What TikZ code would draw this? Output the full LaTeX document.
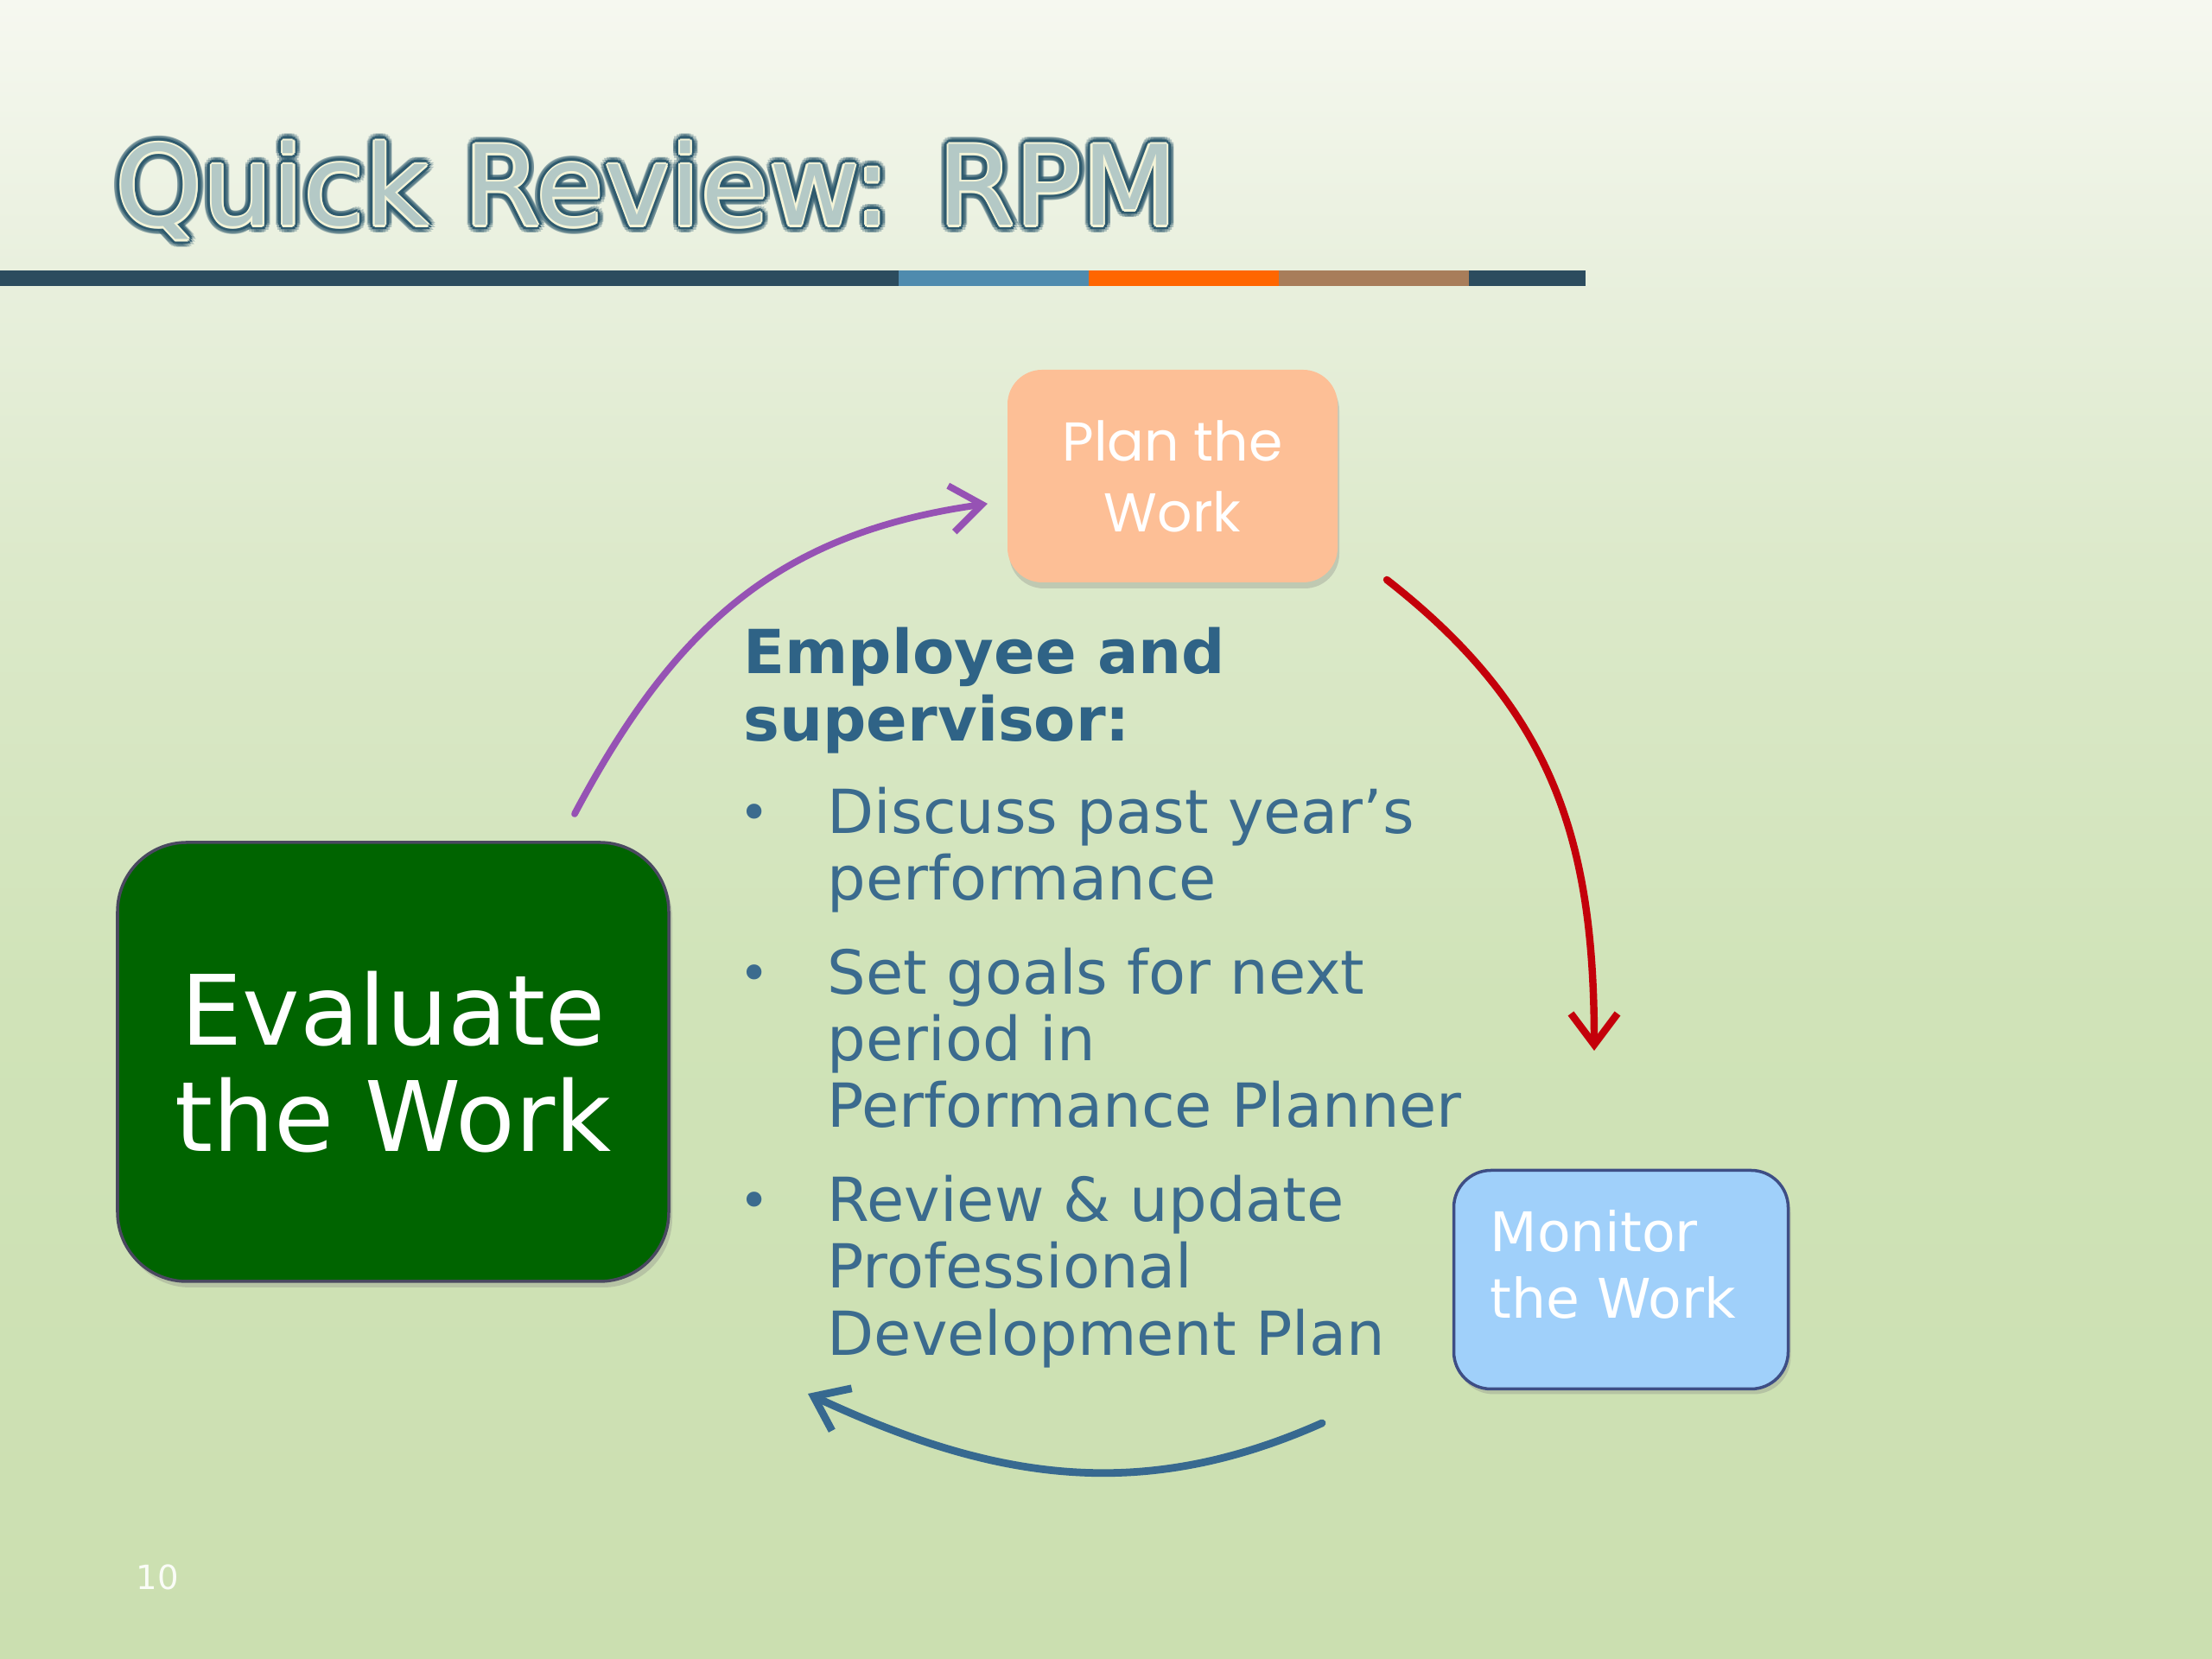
\documentclass[tikz,border=0pt]{standalone}
\usepackage{fontspec}
\setmainfont{DejaVu Sans}
\newfontfamily\planfont{Poppins}
\usepackage{xcolor}
\usepackage{tikz}
\usetikzlibrary{arrows.meta,positioning,shadows,calc}
\definecolor{bgtop}{HTML}{F6F8F0}
\definecolor{bghigh}{HTML}{E9F0DE}
\definecolor{bgmid}{HTML}{DCE9CA}
\definecolor{bglow}{HTML}{D0E3B8}
\definecolor{bgbottom}{HTML}{CBDFB0}
\definecolor{bardark}{HTML}{2C4C5E}
\definecolor{barblue}{HTML}{4F8BAE}
\definecolor{barorange}{HTML}{FF6600}
\definecolor{barbrown}{HTML}{A87D5A}
\definecolor{titleteal}{HTML}{2E5A6E}
\definecolor{titlecream}{HTML}{F4F4D8}
\definecolor{titlefill}{HTML}{B4C9C6}
\definecolor{planpeach}{HTML}{FDBF96}
\definecolor{monitorblue}{HTML}{A0D0FA}
\definecolor{monitoredge}{HTML}{3E4E85}
\definecolor{evalgreen}{HTML}{006400}
\definecolor{evaledge}{HTML}{4A4860}
\definecolor{headblue}{HTML}{2F6386}
\definecolor{bodyblue}{HTML}{3B6B8E}
\definecolor{arrowpurple}{HTML}{9652B4}
\definecolor{arrowred}{HTML}{C4000A}
\definecolor{arrowblue}{HTML}{376990}
\pgfdeclareverticalshading{slidebg}{100bp}{color(0bp)=(bgbottom); color(25bp)=(bgbottom); color(45bp)=(bglow); color(58bp)=(bgmid); color(67bp)=(bghigh); color(75bp)=(bgtop); color(100bp)=(bgtop)}
\newcommand{\listdot}{\hspace{-1.6pt}\raisebox{0.8pt}{\fontsize{17}{17}\selectfont •}}
\tikzset{
  titletext/.style={
    anchor=base west,
    inner sep=0pt,
    font=\fontsize{36.5}{40}\selectfont
  },
  planbox/.style={
    fill=planpeach,
    rounded corners=0.4cm,
    minimum width=3.82cm,
    minimum height=2.46cm,
    text=white,
    align=center,
    font=\planfont\fontsize{18}{23.3}\selectfont,
    drop shadow={opacity=0.3, shadow xshift=0.02cm, shadow yshift=-0.07cm}
  },
  monitorbox/.style={
    fill=monitorblue,
    draw=monitoredge,
    line width=1pt,
    rounded corners=0.43cm,
    minimum width=3.87cm,
    minimum height=2.53cm,
    drop shadow={opacity=0.3, shadow xshift=0.03cm, shadow yshift=-0.06cm}
  },
  monitortext/.style={
    anchor=north west,
    inner sep=0pt,
    text=white,
    align=left,
    font=\fontsize{18}{22}\selectfont
  },
  evalbox/.style={
    fill=evalgreen,
    draw=evaledge,
    line width=1pt,
    rounded corners=0.8cm,
    minimum width=6.38cm,
    minimum height=5.08cm,
    text=white,
    align=center,
    font=\fontsize{32}{35}\selectfont,
    drop shadow={opacity=0.3, shadow xshift=0.04cm, shadow yshift=-0.07cm}
  },
  bodytext/.style={
    anchor=base west,
    inner sep=0pt,
    text=bodyblue,
    font=\fontsize{20}{22}\selectfont
  },
  cyclearrow/.style={
    -{Straight Barb[length=3.6mm,width=5.4mm]},
    line width=2.2pt,
    line cap=round
  },
  pagenum/.style={
    anchor=base west,
    inner sep=0pt,
    text=white!90!bgbottom,
    font=\fontsize{11}{13}\selectfont
  }
}
\begin{document}
\begin{tikzpicture}
  \useasboundingbox (0,0) rectangle (25.6,19.2);
  \fill[shading=slidebg] (0,0) rectangle (25.6,19.2);
  % title with outlined letters
  \foreach \ang in {0,20,...,340}
    \node[titletext, text=titleteal, opacity=0.3] (glow\ang) at ($(1.33,16.59)+(\ang:0.085)$) {Quick Review: RPM};
  \foreach \ang in {0,30,...,330}
    \node[titletext, text=titleteal] (edge\ang) at ($(1.33,16.59)+(\ang:0.05)$) {Quick Review: RPM};
  \foreach \ang in {0,45,...,315}
    \node[titletext, text=titlecream] (rim\ang) at ($(1.33,16.59)+(\ang:0.022)$) {Quick Review: RPM};
  \node[titletext, text=titlefill] (title) at (1.33,16.59) {Quick Review: RPM};
  % colour bar
  \fill[bardark] (0,15.89) rectangle (10.40,16.07);
  \fill[barblue] (10.40,15.89) rectangle (12.60,16.07);
  \fill[barorange] (12.60,15.89) rectangle (14.80,16.07);
  \fill[barbrown] (14.80,15.89) rectangle (17.00,16.07);
  \fill[bardark] (17.00,15.89) rectangle (18.35,16.07);
  % the three stages
  \node[planbox] (plan) at (13.57,13.69) {Plan the\\Work};
  \node[monitorbox] (monitor) at (18.76,4.39) {};
  \node[monitortext] (monitorlabel) at ([xshift=0.43cm, yshift=-0.47cm]monitor.north west) {Monitor\\the Work};
  \node[evalbox] (evaluate) at (4.55,6.91) {Evaluate\\the Work};
  % what happens in the review
  \node[bodytext] (duties) at (8.60,11.40) {%
    \begin{tabular}[t]{@{}p{0.97cm}@{}l@{}}
      \multicolumn{2}{@{}l@{}}{\color{headblue}\bfseries Employee and}\\
      \multicolumn{2}{@{}l@{}}{\color{headblue}\bfseries supervisor:}\\[8.5pt]
      \listdot & Discuss past year’s\\
        & performance\\[8.8pt]
      \listdot & Set goals for next\\
        & period in\\
        & Performance Planner\\[9pt]
      \listdot & Review \& update\\
        & Professional\\
        & Development Plan
    \end{tabular}};
  % cycle arrows
  \coordinate (toPlanStart) at (6.65,9.78);
  \coordinate (toPlanEnd) at (11.43,13.37);
  \coordinate (toMonitorStart) at (16.05,12.49);
  \coordinate (toMonitorEnd) at (18.45,7.04);
  \coordinate (toEvalStart) at (15.30,2.73);
  \coordinate (toEvalEnd) at (9.35,3.07);
  \draw[cyclearrow, arrowpurple] (toPlanStart) to[out=62, in=188, looseness=1.05] (toPlanEnd);
  \draw[cyclearrow, arrowred, line width=2.4pt] (toMonitorStart) to[out=-38, in=90, looseness=1.05] (toMonitorEnd);
  \draw[cyclearrow, arrowblue, line width=2.5pt] (toEvalStart) to[out=204, in=-25] (toEvalEnd);
  \node[pagenum] (pageno) at (1.57,0.80) {10};
\end{tikzpicture}
\end{document}
